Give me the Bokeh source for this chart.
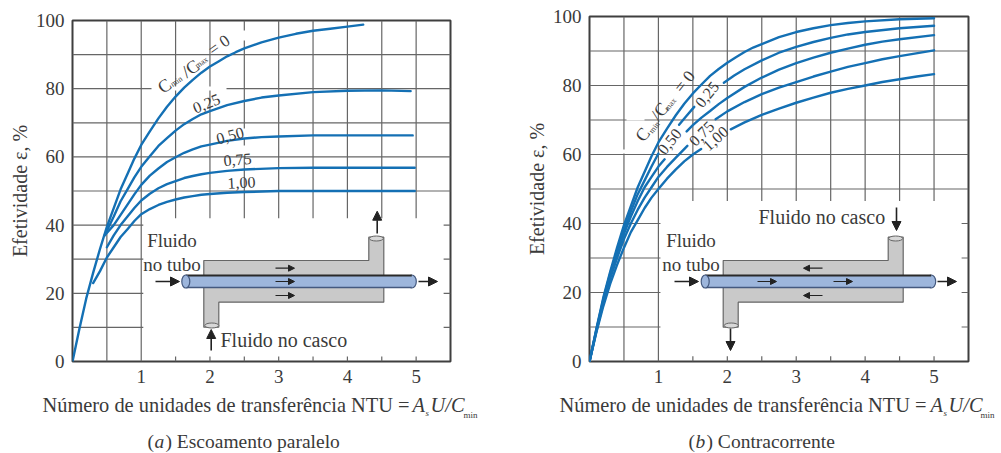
from bokeh.plotting import figure
from bokeh.layouts import row, column
from bokeh.models import Label, Arrow, NormalHead, FixedTicker, Range1d
from bokeh.embed import file_html
from bokeh.resources import INLINE

nan = float("nan")
x_ticks = [1, 2, 3, 4, 5]
x_minor = [0.5, 1.5, 2.5, 3.5, 4.5]
y_ticks = [0, 20, 40, 60, 80, 100]
grid_x = [0.5, 1, 1.5, 2, 2.5, 3, 3.5, 4, 4.5, 5]
grid_y = [10, 20, 30, 40, 50, 60, 70, 80, 90]

# (a) Escoamento paralelo: curve values
par_c0_x = [0, 0.1, 0.2, 0.3, 0.4, 0.5, 0.6, 0.7, 0.8, 0.9, 1.0, 1.125, 1.25, 1.375, 1.5, 1.625, 1.75, 1.875, 2.0, 2.125, 2.25, 2.375, 2.5, 2.75, 3.0, 3.25, 3.5, 3.75, 4.0, 4.23]
par_c0_y = [0, 9.5, 18.5, 26, 33, 39.5, 45, 50.5, 55, 59.5, 63.5, 67.5, 71.3, 74.7, 77.7, 80.3, 82.6, 84.7, 86.5, 88, 89.5, 90.7, 91.8, 93.6, 95, 96.1, 97, 97.6, 98.2, 98.8]
par_c25_x = [0.47, 0.6, 0.7, 0.8, 0.9, 1.0, 1.125, 1.25, 1.375, 1.5, 1.625, 1.75, 1.875, 2.0, 2.25, 2.5, 2.75, 3.0, 3.5, 4.0, 4.5, 4.92]
par_c25_y = [37, 42.5, 47, 50.5, 54, 57.1, 60.2, 63.2, 65.5, 67.7, 69.6, 71.1, 72.5, 73.4, 75.2, 76.4, 77.4, 78, 79, 79.4, 79.5, 79.3]
par_c50_x = [0.47, 0.6, 0.7, 0.8, 0.9, 1.0, 1.125, 1.25, 1.375, 1.5, 1.625, 1.75, 1.875, 2.0, 2.25, 2.5, 2.75, 3.0, 3.5, 4.0, 4.5, 4.95]
par_c50_y = [37, 40, 43, 46, 49, 51.8, 54.5, 56.6, 58.5, 59.9, 61.2, 62.2, 63.1, 63.6, 64.7, 65.4, 65.8, 66, 66.3, 66.3, 66.3, 66.3]
par_c75_x = [0.5, 0.6, 0.7, 0.8, 0.9, 1.0, 1.125, 1.25, 1.375, 1.5, 1.625, 1.75, 1.875, 2.0, 2.25, 2.5, 3.0, 3.5, 4.0, 4.5, 4.98]
par_c75_y = [33.5, 37, 40, 42.5, 45, 47.2, 49.2, 50.8, 52, 52.9, 53.8, 54.4, 54.9, 55.3, 55.9, 56.3, 56.7, 56.8, 56.8, 56.8, 56.8]
par_c100_x = [0.3, 0.4, 0.5, 0.6, 0.7, 0.8, 0.9, 1.0, 1.125, 1.25, 1.375, 1.5, 1.625, 1.75, 1.875, 2.0, 2.25, 2.5, 3.0, 3.5, 4.0, 4.5, 4.98]
par_c100_y = [23, 26.5, 30.5, 33.5, 36.5, 38.8, 41.2, 43.2, 44.7, 45.9, 46.8, 47.5, 48.1, 48.5, 48.9, 49.1, 49.5, 49.7, 50, 50, 50, 50, 50]

# (b) Contracorrente: curve values (nan = gap under a label)
con_c0_x = [0, 0.1, 0.2, 0.3, 0.4, 0.5, 0.6, 0.7, 0.8, 0.9, 1.0, 1.125, 1.25, 1.375, 1.5, 1.625, 1.75, 1.875, 2.0, 2.125, 2.25, 2.375, 2.5, 2.75, 3.0, 3.25, 3.5, 3.75, 4.0, 4.5, 5.0]
con_c0_y = [0, 9.5, 18.5, 26, 33, 39.5, 45, 50.5, 55, 59.5, 63.5, 67.5, 71.3, 74.7, 77.7, 80.3, 82.8, 84.8, 86.6, 88.2, 89.7, 91, 92, 94, 95.5, 96.6, 97.5, 98.1, 98.6, 99.2, 99.5]
con_c25_x = [0, 0.1, 0.2, 0.3, 0.4, 0.5, 0.6, 0.7, 0.8, 0.9, 1.0, 1.0, 1.3, 1.3, 1.4, 1.52, 1.52, 1.95, 1.95, 2.1, 2.25, 2.5, 2.75, 3.0, 3.25, 3.5, 3.75, 4.0, 4.5, 5.0]
con_c25_y = [0, 9.3, 18, 25.5, 32, 38, 43.5, 48.5, 52.5, 56.5, 60.3, nan, 68.6, 68.6, 71, 73.8, nan, 80.8, 80.8, 82.9, 84.7, 87.3, 89.5, 91.2, 92.6, 93.8, 94.8, 95.5, 96.6, 97.3]
con_c50_x = [0, 0.1, 0.2, 0.3, 0.4, 0.5, 0.6, 0.7, 0.8, 0.9, 1.0, 1.09, 1.09, 1.41, 1.41, 1.5, 1.625, 1.75, 1.875, 2.0, 2.25, 2.5, 2.75, 3.0, 3.25, 3.5, 3.75, 4.0, 4.25, 4.5, 5.0]
con_c50_y = [0, 9, 17.5, 25, 31.5, 37, 42, 46.5, 50.5, 53.5, 56.5, 58.6, nan, 66.7, 66.7, 68.5, 70.7, 72.6, 74.6, 76.4, 79.6, 82.3, 84.6, 86.5, 88.1, 89.5, 90.7, 91.8, 92.7, 93.4, 94.6]
con_c75_x = [0, 0.1, 0.2, 0.3, 0.4, 0.5, 0.6, 0.7, 0.8, 0.9, 1.0, 1.125, 1.25, 1.42, 1.42, 1.83, 1.83, 2.0, 2.25, 2.5, 2.75, 3.0, 3.25, 3.5, 3.75, 4.0, 4.25, 4.5, 5.0]
con_c75_y = [0, 8.8, 17, 24, 30, 35.5, 40, 44, 47.5, 50.5, 53.5, 56.4, 59, 62.5, nan, 70.2, 70.2, 72.5, 75.2, 77.5, 79.4, 81, 82.6, 84, 85.4, 86.5, 87.6, 88.5, 90.2]
con_c100_x = [0, 0.1, 0.2, 0.3, 0.4, 0.5, 0.6, 0.7, 0.8, 0.9, 1.0, 1.125, 1.25, 1.375, 1.5, 1.62, 1.62, 2.05, 2.05, 2.25, 2.5, 2.75, 3.0, 3.25, 3.5, 3.75, 4.0, 4.25, 4.5, 4.75, 5.0]
con_c100_y = [0, 8.5, 16, 22.5, 28, 33, 37.5, 41, 44.5, 47.5, 50, 53, 55.6, 58, 60, 61.6, nan, 67.3, 67.3, 69.3, 71.5, 73.3, 75, 76.5, 77.9, 79, 80, 81, 81.8, 82.6, 83.3]

Y_LABEL = "Efetividade \u03b5, %"
X_LABEL = "N\u00famero de unidades de transfer\u00eancia NTU ="

SERIF = "Liberation Serif"
TXT = "#3a3a3a"
BLUE = "#1470b4"
GRID = "#666666"
EDGE = "#3f3f3f"
SPLIT = 392   # page y where the main figure ends and the caption strip starts
PAGE_H = 453


class Panel:
    """Figure whose frame sits at given page pixels; sx/sy map page pixels to data."""

    def __init__(self, left, right, top, bottom, fig_left, fig_width):
        self.left, self.right, self.top, self.bottom = left, right, top, bottom
        self.fig_left = fig_left
        self.p = figure(
            width=fig_width, height=SPLIT, output_backend="svg", toolbar_location=None,
            x_range=Range1d(0, 5.5), y_range=Range1d(0, 100), frame_align=False,
            min_border_left=left - fig_left, min_border_right=fig_left + fig_width - right,
            min_border_top=top, min_border_bottom=SPLIT - bottom,
        )
        p = self.p
        p.xgrid.visible = False
        p.ygrid.visible = False
        p.outline_line_color = EDGE
        p.outline_line_width = 2
        p.background_fill_color = "white"
        p.border_fill_color = "white"
        p.xaxis.ticker = FixedTicker(ticks=x_ticks, minor_ticks=x_minor)
        p.yaxis.ticker = FixedTicker(ticks=y_ticks)
        for ax in (p.xaxis[0], p.yaxis[0]):
            ax.axis_line_color = None
            ax.major_tick_line_color = None
            ax.minor_tick_line_color = None
            ax.major_label_text_font = SERIF
            ax.major_label_text_font_size = "19px"
            ax.major_label_text_color = TXT
            ax.major_label_standoff = 8
            ax.major_tick_out = 0
            ax.major_tick_in = 0
            ax.minor_tick_out = 0
            ax.minor_tick_in = 0
        yax = p.yaxis[0]
        yax.axis_label = Y_LABEL
        yax.axis_label_text_font = SERIF
        yax.axis_label_text_font_style = "normal"
        yax.axis_label_text_font_size = "20px"
        yax.axis_label_text_color = TXT
        yax.axis_label_standoff = 2
        # caption strip: a frame with no axes, in page-relative pixels
        self.cap = figure(
            width=fig_width, height=PAGE_H - SPLIT, output_backend="svg", toolbar_location=None,
            x_range=Range1d(fig_left, fig_left + fig_width), y_range=Range1d(PAGE_H, SPLIT),
            x_axis_location=None, y_axis_location=None, min_border=0, frame_align=False,
        )
        self.cap.xgrid.visible = False
        self.cap.ygrid.visible = False
        self.cap.outline_line_color = None

    def sx(self, px):
        return (px - self.left) * 5.5 / (self.right - self.left)

    def sy(self, py):
        return (self.bottom - py) * 100 / (self.bottom - self.top)

    def text(self, px, py, s, size=18, angle=0, style="normal", align="center", color=TXT):
        self.p.add_layout(Label(
            x=px - self.left, y=self.bottom - py, x_units="screen", y_units="screen",
            text=s, text_font=SERIF, text_font_size=f"{size}px",
            text_font_style=style, text_align=align, text_baseline="middle", text_color=color,
            angle=angle, angle_units="deg",
        ))

    def captext(self, px, py, s, size=18, style="normal"):
        self.cap.add_layout(Label(
            x=px, y=py, text=s, text_font=SERIF, text_font_size=f"{size}px",
            text_font_style=style, text_align="left", text_baseline="middle", text_color=TXT,
        ))

    def grid(self, vstop, hstop):
        p = self.p
        for gx in grid_x:
            low = 0 if gx <= 1 else vstop
            p.line([gx, gx], [low, 100], line_color=GRID, line_width=1.2)
            if gx > 1:
                p.line([gx, gx], [0, 1.5], line_color=GRID, line_width=1.2)
        for gy in grid_y:
            if gy >= 50:
                p.line([0, 5.5], [gy, gy], line_color=GRID, line_width=1.2)
            else:
                p.line([0, hstop], [gy, gy], line_color=GRID, line_width=1.2)
                p.line([5.4, 5.5], [gy, gy], line_color=GRID, line_width=1.2)

    def gap(self, px0, py0, px1, py1):
        self.p.line([self.sx(px0), self.sx(px1)], [self.sy(py0), self.sy(py1)], line_color="white", line_width=4)

    def curve(self, xs, ys):
        self.p.line(xs, ys, line_color=BLUE, line_width=2.4, line_join="round", line_cap="round")

    def arrow(self, px0, py0, px1, py1, head=9, width=1.6):
        self.p.add_layout(Arrow(
            end=NormalHead(size=head, fill_color="#222222", line_color="#222222"),
            x_start=self.sx(px0), y_start=self.sy(py0), x_end=self.sx(px1), y_end=self.sy(py1),
            line_color="#222222", line_width=width,
        ))

    def exchanger(self, ox):
        """Shell-and-tube sketch; ox is the page x of the shell's left edge."""
        p = self.p
        X = lambda d: self.sx(ox + d)
        Y = self.sy
        sxs = [0, 165, 165, 180, 180, 15, 15, 0]
        sys_ = [260, 260, 236.7, 236.7, 301.7, 301.7, 326.7, 326.7]
        p.patch([X(d) for d in sxs], [Y(v) for v in sys_], fill_color="#c9c9c9", line_color="#666666", line_width=1.2)
        # curled pipe ends
        p.ellipse([X(172.5), X(8)], [Y(238), Y(325)], width=14, height=5, width_units="screen", height_units="screen",
                  fill_color="#d8d8d8", line_color="#666666", line_width=1)
        # tube
        p.ellipse([X(208)], [Y(281)], width=9, height=13, width_units="screen", height_units="screen",
                  fill_color="#9db6dc", line_color="#44597f", line_width=1.2)
        p.patch([X(d) for d in (-18, 208, 208, -18)], [Y(v) for v in (275, 275, 287, 287)],
                fill_color="#9db6dc", line_color=None)
        p.line([X(-18), X(208)], [Y(275), Y(275)], line_color="#2a2a2a", line_width=2)
        p.line([X(-18), X(208)], [Y(287), Y(287)], line_color="#44597f", line_width=1.6)
        p.ellipse([X(-18)], [Y(281)], width=8, height=13, width_units="screen", height_units="screen",
                  fill_color="#9db6dc", line_color="#44597f", line_width=1.2)


def build_left():
    P = Panel(72, 450, 20, 361, 0, 520)
    P.grid(42, 1.03)
    P.gap(151, 88, 226, 88)
    P.gap(243, 30, 243, 40)
    P.gap(243, 128, 243, 138)
    P.gap(243, 145, 243, 155)
    for xs, ys in ((par_c0_x, par_c0_y), (par_c25_x, par_c25_y), (par_c50_x, par_c50_y),
                   (par_c75_x, par_c75_y), (par_c100_x, par_c100_y)):
        P.curve(xs, ys)
    # rotated curve labels
    P.text(164, 85.5, "C", 18, 35)
    P.text(176, 81, "min", 8, 35)
    P.text(190, 68, "/C", 18, 35)
    P.text(201, 62, "max", 8, 35)
    P.text(218.5, 44.5, "= 0", 17, 35)
    P.text(206, 103, "0,25", 16, 22)
    P.text(229.5, 135, "0,50", 16, 15)
    P.text(237, 159, "0,75", 16, 5)
    P.text(241, 182, "1,00", 16, 3)
    # exchanger
    P.exchanger(203.3)
    P.arrow(155, 281, 179, 281)
    P.arrow(418, 281, 437, 281)
    for py in (267.7, 281, 295):
        P.arrow(275, py, 294, py, head=6, width=1.2)
    P.arrow(376.7, 233, 376.7, 210.7)
    P.arrow(210.7, 350, 210.7, 329)
    P.text(171.5, 240, "Fluido", 19)
    P.text(171.5, 264, "no tubo", 19)
    P.text(220, 339, "Fluido no casco", 20, align="left")
    # axis title and caption
    P.captext(42, 404, X_LABEL, 20.4)
    P.captext(412, 404, "A", 20.4, "italic")
    P.captext(425, 412, "s", 9, "italic")
    P.captext(430, 404, "U/C", 20.4, "italic")
    P.captext(463, 414, "min", 9)
    P.captext(147, 441, "(", 19.5)
    P.captext(154, 441, "a", 19.5, "italic")
    P.captext(165, 441, ") Escoamento paralelo", 19.5)
    return column(P.p, P.cap, spacing=0)


def build_right():
    P = Panel(589, 968, 16, 361, 520, 481)
    P.grid(46.5, 1.03)
    P.gap(620, 151, 630, 151)
    P.gap(626, 118, 644, 118)
    for xs, ys in ((con_c0_x, con_c0_y), (con_c25_x, con_c25_y), (con_c50_x, con_c50_y),
                   (con_c75_x, con_c75_y), (con_c100_x, con_c100_y)):
        P.curve(xs, ys)
    P.text(642, 134, "C", 18, 51)
    P.text(654, 127, "min", 8, 51)
    P.text(659, 111, "/C", 18, 51)
    P.text(670, 104, "max", 8, 51)
    P.text(684, 81, "= 0", 17, 51)
    P.text(706.5, 94, "0,25", 16, 51)
    P.text(669, 141, "0,50", 16, 51)
    P.text(701, 133, "0,75", 16, 45)
    P.text(715, 138, "1,00", 16, 42)
    P.exchanger(722.7)
    P.arrow(674, 281, 698, 281)
    P.arrow(937, 281, 956, 281)
    P.arrow(822, 267.7, 803, 267.7, head=6, width=1.2)
    P.arrow(822, 295, 803, 295, head=6, width=1.2)
    P.arrow(757, 281, 776, 281, head=6, width=1.2)
    P.arrow(833, 281, 852, 281, head=6, width=1.2)
    P.arrow(896, 207, 896, 230)
    P.arrow(730, 328, 730, 350)
    P.text(690.5, 240, "Fluido", 19)
    P.text(690.5, 264, "no tubo", 19)
    P.text(758, 216.5, "Fluido no casco", 20, align="left")
    P.captext(559, 404, X_LABEL, 20.4)
    P.captext(930, 404, "A", 20.4, "italic")
    P.captext(943, 412, "s", 9, "italic")
    P.captext(948, 404, "U/C", 20.4, "italic")
    P.captext(980, 414, "min", 9)
    P.captext(688, 441, "(", 19.5)
    P.captext(695, 441, "b", 19.5, "italic")
    P.captext(706, 441, ") Contracorrente", 19.5)
    return column(P.p, P.cap, spacing=0)


layout = row(build_left(), build_right(), spacing=0)
open("out.html", "w").write(file_html(layout, INLINE))
